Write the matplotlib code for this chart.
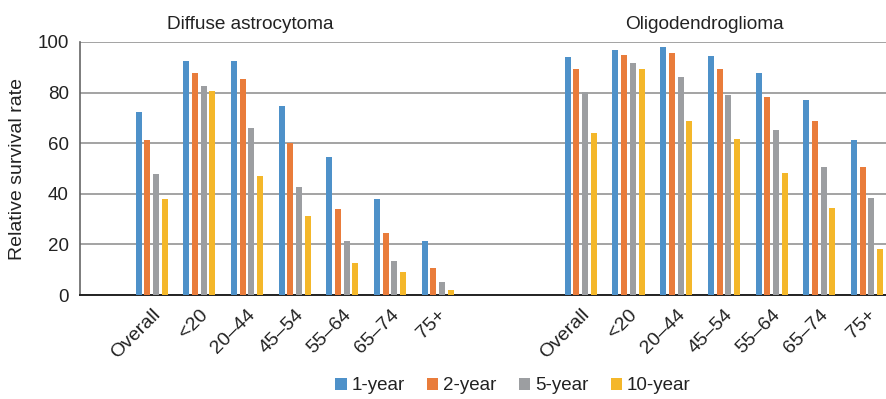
import matplotlib.pyplot as plt
import numpy as np

plt.rcParams['font.family'] = ['Liberation Sans', 'DejaVu Sans']

age_groups = ["Overall", "<20", "20\u201344", "45\u201354", "55\u201364", "65\u201374", "75+"]
series_names = ["1-year", "2-year", "5-year", "10-year"]
colors = ["#4e91c9", "#e97c3b", "#9c9ea1", "#f4b72a"]

# relative survival rate (%) by age group
astro_1yr = [72.4, 92.6, 92.6, 74.9, 54.6, 38.0, 21.4]
astro_2yr = [61.3, 87.6, 85.5, 60.2, 34.0, 24.7, 10.7]
astro_5yr = [47.9, 82.7, 66.1, 42.7, 21.4, 13.6, 5.1]
astro_10yr = [38.0, 80.6, 47.1, 31.3, 12.7, 9.1, 2.0]

oligo_1yr = [94.2, 97.0, 98.2, 94.6, 87.9, 77.2, 61.3]
oligo_2yr = [89.4, 95.0, 95.8, 89.4, 78.4, 68.9, 50.7]
oligo_5yr = [80.3, 91.8, 86.3, 79.2, 65.3, 50.7, 38.4]
oligo_10yr = [64.1, 89.4, 68.9, 61.7, 48.3, 34.4, 18.2]

astro = [astro_1yr, astro_2yr, astro_5yr, astro_10yr]
oligo = [oligo_1yr, oligo_2yr, oligo_5yr, oligo_10yr]

fig = plt.figure(figsize=(8.87, 3.99), dpi=100)
ax = fig.add_axes([80 / 887, 1 - 295 / 399, 807 / 887, 253 / 399])

# one empty slot on the left, two between the tumour types
astro_x = np.arange(1, 8)
oligo_x = np.arange(10, 17)
width = 0.126
step = 0.182

for i in range(4):
    off = (i - 1.5) * step
    ax.bar(astro_x + off, astro[i], width, color=colors[i], label=series_names[i], zorder=3)
    ax.bar(oligo_x + off, oligo[i], width, color=colors[i], zorder=3)

ax.set_xlim(-0.5, 16.42)
ax.set_ylim(0, 100)
ax.set_yticks(range(0, 101, 20))
ax.yaxis.grid(True, color="#a3a3a3", linewidth=1.4, zorder=0)
ax.set_axisbelow(True)
ax.tick_params(axis="y", length=0, labelsize=13.5, pad=8, colors="#222222")
ax.tick_params(axis="x", length=0, labelsize=14, pad=8, colors="#222222")
ax.set_xticks(list(astro_x) + list(oligo_x))
ax.set_xticklabels(age_groups + age_groups, rotation=45, ha="right",
                   rotation_mode="anchor")

for s in ["top", "right"]:
    ax.spines[s].set_visible(False)
ax.spines["left"].set_color("#666666")
ax.spines["left"].set_linewidth(1.2)
ax.spines["bottom"].set_color("#222222")
ax.spines["bottom"].set_linewidth(1.4)

ax.set_ylabel("Relative survival rate", fontsize=14, color="#222222", labelpad=8)

ax.text(3.06, 103.5, "Diffuse astrocytoma", ha="center", va="bottom", fontsize=13.7, color="#222222")
ax.text(12.6, 103.5, "Oligodendroglioma", ha="center", va="bottom", fontsize=13.7, color="#222222")

fig.legend(loc="center", bbox_to_anchor=(513 / 887, 1 - 386 / 399), ncol=4, frameon=False,
           fontsize=13.5, handlelength=0.6, handleheight=0.6, handletextpad=0.25,
           columnspacing=1.2, labelcolor="#222222")

fig.savefig("out.png", dpi=100)
